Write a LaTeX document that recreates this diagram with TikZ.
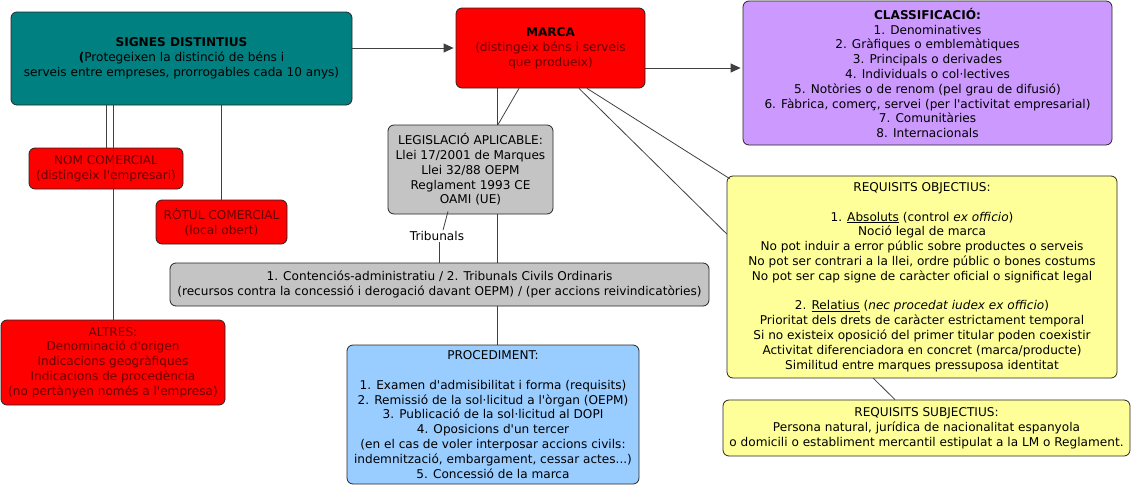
\documentclass[tikz,border=0pt]{standalone}
\usepackage{fontspec}
\setmainfont{DejaVu Sans}[Ligatures=TeXOff]
\usetikzlibrary{arrows.meta,backgrounds}
\definecolor{cteal}{HTML}{008080}
\definecolor{cred}{HTML}{FF0000}
\definecolor{cpurple}{HTML}{CC99FF}
\definecolor{cgray}{HTML}{C4C4C4}
\definecolor{cblue}{HTML}{99CCFF}
\definecolor{cyellow}{HTML}{FFFF99}
\definecolor{cmaroon}{HTML}{660000}
\newcommand{\fs}{\fontsize{12.1}{14.8}\selectfont}
\begin{document}
\begin{tikzpicture}[x=1pt,y=-1pt,
  box/.style={draw=black!85, line width=0.8pt, rounded corners=6pt, inner sep=0pt, align=center, font=\fs},
  redbox/.style={box, fill=cred, text=cmaroon},
  conn/.style={draw=black!75, line width=0.8pt},
  arr/.style={conn, -{Triangle[length=10pt,width=9pt]}, shorten >=2pt}]
\useasboundingbox (0,0) rectangle (1133,488);

\node[box, fill=cteal, minimum width=341pt, minimum height=93pt] (signes) at (181.5,58.5)
  {\textbf{SIGNES DISTINTIUS}\\\textbf{(}Protegeixen la distinció de béns i\\serveis entre empreses, prorrogables cada 10 anys)};
\node[redbox, minimum width=189pt, minimum height=80pt] (marca) at (550.5,48)
  {\textcolor{black}{\textbf{MARCA}}\\(distingeix béns i serveis\\que produeix)};
\node[box, fill=cpurple, minimum width=369pt, minimum height=144pt] (classif) at (927.5,73)
  {\textbf{CLASSIFICACIÓ:}\\1. Denominatives\\2. Gràfiques o emblemàtiques\\3. Principals o derivades\\4. Individuals o col·lectives\\5. Notòries o de renom (pel grau de difusió)\\6. Fàbrica, comerç, servei (per l'activitat empresarial)\\7. Comunitàries\\8. Internacionals};
\node[redbox, minimum width=154pt, minimum height=41pt] (nom) at (106,168.5)
  {NOM COMERCIAL\\(distingeix l'empresari)};
\node[redbox, minimum width=131pt, minimum height=44pt] (rotul) at (221.5,222)
  {RÒTUL COMERCIAL\\(local obert)};
\node[box, fill=cgray, minimum width=165pt, minimum height=89pt] (legis) at (470.5,169.5)
  {LEGISLACIÓ APLICABLE:\\Llei 17/2001 de Marques\\Llei 32/88 OEPM\\Reglament 1993 CE\\OAMI (UE)};
\node[font=\fs, inner sep=1pt] (tlab) at (437,236) {Tribunals};
\node[box, fill=cgray, minimum width=539pt, minimum height=43pt] (trib) at (439.5,284.5)
  {1. Contenciós-administratiu / 2. Tribunals Civils Ordinaris\\(recursos contra la concessió i derogació davant OEPM) / (per accions reivindicatòries)};
\node[redbox, minimum width=224pt, minimum height=85pt] (altres) at (113,362.5)
  {ALTRES:\\Denominació d'origen\\Indicacions geogràfiques\\Indicacions de procedència\\(no pertànyen només a l'empresa)};
\node[box, fill=cblue, minimum width=292pt, minimum height=139pt] (proced) at (493,414.5)
  {PROCEDIMENT:\\[14.8pt]1. Examen d'admisibilitat i forma (requisits)\\2. Remissió de la sol·licitud a l'òrgan (OEPM)\\3. Publicació de la sol·licitud al DOPI\\4. Oposicions d'un tercer\\(en el cas de voler interposar accions civils:\\indemnització, embargament, cessar actes...)\\5. Concessió de la marca};
\node[box, fill=cyellow, minimum width=390pt, minimum height=202pt] (obj) at (922,277)
  {REQUISITS OBJECTIUS:\\[14.8pt]1. \underline{Absoluts} (control \textit{ex officio})\\Noció legal de marca\\No pot induir a error públic sobre productes o serveis\\No pot ser contrari a la llei, ordre públic o bones costums\\No pot ser cap signe de caràcter oficial o significat legal\\[14.8pt]2. \underline{Relatius} (\textit{nec procedat iudex ex officio})\\Prioritat dels drets de caràcter estrictament temporal\\Si no existeix oposició del primer titular poden coexistir\\Activitat diferenciadora en concret (marca/producte)\\Similitud entre marques pressuposa identitat};
\node[box, fill=cyellow, minimum width=407pt, minimum height=56pt] (subj) at (926.5,428)
  {REQUISITS SUBJECTIUS:\\Persona natural, jurídica de nacionalitat espanyola\\o domicili o establiment mercantil estipulat a la LM o Reglament.};

\begin{scope}[on background layer]
  \draw[conn] ([xshift=-53.5pt]marca.south) -- ([xshift=4pt]proced.north);
  \draw[conn] ([xshift=28.5pt]marca.south) -- ([xshift=-31.5pt]subj.north);
\end{scope}
\draw[arr] (signes.east |- marca.west) -- (marca.west);
\draw[arr] ([yshift=-20pt]marca.east) -- ([yshift=-20pt]marca.east -| classif.west);
\draw[conn] (nom.north |- signes.south) -- (nom.north);
\draw[conn] (altres.north |- signes.south) -- (altres.north);
\draw[conn] (rotul.north |- signes.south) -- (rotul.north);
\draw[conn] ([xshift=-31.5pt]marca.south) -- ([xshift=27.5pt]legis.north);
\draw[conn] ([xshift=36.5pt]marca.south) -- ([xshift=3pt,yshift=-3pt]obj.north west);
\draw[conn] ([xshift=-22.5pt,yshift=3pt]legis.south) -- ([xshift=6pt]tlab.north);
\draw[conn] ([xshift=2pt]tlab.south) -- ([xshift=2pt]tlab.south |- trib.north);
\end{tikzpicture}
\end{document}
